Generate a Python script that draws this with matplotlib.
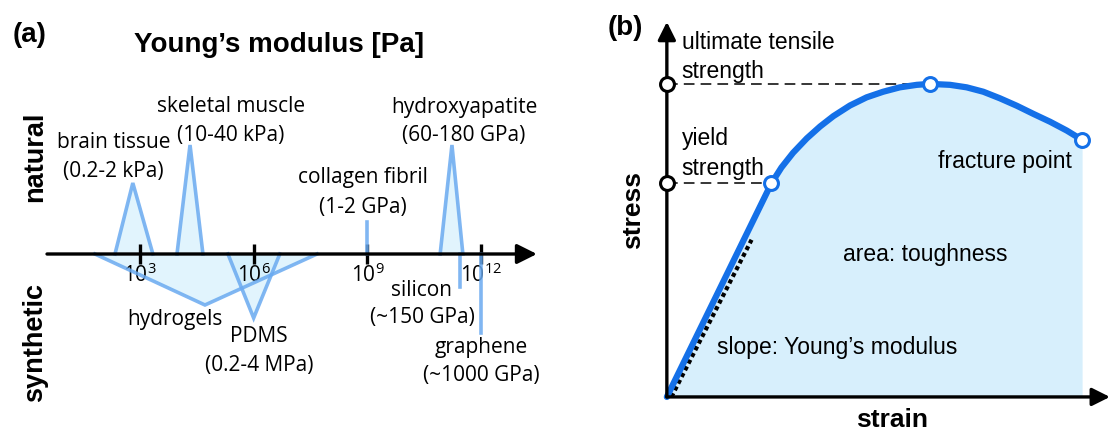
import matplotlib.pyplot as plt

plt.rcParams['font.family'] = ['Open Sans', 'DejaVu Sans']
plt.rcParams['mathtext.fontset'] = 'custom'
plt.rcParams['mathtext.rm'] = 'Open Sans'
plt.rcParams['mathtext.it'] = 'Open Sans'

# ---- panel (a): Young's modulus ranges [Pa], triangle heights in arbitrary units
natural_names = ['brain tissue\n(0.2-2 kPa)', 'skeletal muscle\n(10-40 kPa)', 'hydroxyapatite\n(60-180 GPa)']
natural_low = [2.2e2, 9.5e3, 8.3e10]
natural_peak = [6.5e2, 2.1e4, 1.7e11]
natural_high = [2.2e3, 4.6e4, 3.3e11]
natural_height = [71, 109, 109]

synthetic_names = ['hydrogels', 'PDMS\n(0.2-4 MPa)']
synthetic_low = [65, 2.1e5]
synthetic_peak = [5.2e4, 1.0e6]
synthetic_high = [4.7e7, 4.9e6]
synthetic_depth = [51, 64]

# materials with a single value, drawn as a stick
stick_names = ['collagen fibril\n(1-2 GPa)', 'silicon\n(~150 GPa)', 'graphene\n(~1000 GPa)']
stick_values = [1.0e9, 2.8e11, 1.0e12]
stick_heights = [32, -33, -79]

tick_values = [1e3, 1e6, 1e9, 1e12]
tick_labels = ['$10^3$', '$10^6$', '$10^9$', '$10^{12}$']

# ---- panel (b): stress-strain curve (normalised)
strain = [0, 0.252, 0.276, 0.304, 0.337, 0.369, 0.401, 0.441, 0.481, 0.521, 0.561,
          0.602, 0.634, 0.682, 0.722, 0.762, 0.802, 0.843, 0.883, 0.923, 0.963, 1.0]
stress = [0, 0.683, 0.733, 0.780, 0.826, 0.864, 0.897, 0.931, 0.957, 0.975, 0.989,
          0.997, 1.0, 0.997, 0.989, 0.975, 0.954, 0.930, 0.904, 0.879, 0.851, 0.821]
yield_idx = 1
uts_idx = 12
slope_strain = [0.011, 0.204]
slope_stress = [0.0, 0.502]

line_blue = '#6aaaf0'
fill_blue = '#cdeefc'
curve_blue = '#1470e8'
area_blue = '#d7effc'

fig = plt.figure(figsize=(11.12, 4.32), dpi=100)

# ================= panel (a)
ax = fig.add_axes([0, 0, 560 / 1112, 1])
ax.set_xscale('log')
ax.set_xlim(10 ** -0.69, 10 ** 14.08)
ax.set_ylim(-178, 254)
for s in ax.spines.values():
    s.set_visible(False)
ax.spines['bottom'].set_position(('data', 0))
ax.set_yticks([])
ax.set_xticks(tick_values)
ax.set_xticklabels(tick_labels, fontsize=15)
ax.xaxis.set_minor_locator(plt.NullLocator())
ax.tick_params(axis='x', direction='inout', length=15, width=2.4, pad=-1, color='black')
ax.patch.set_visible(False)

for lo, pk, hi, h in zip(natural_low, natural_peak, natural_high, natural_height):
    ax.fill([lo, pk, hi], [0, h, 0], color=fill_blue, alpha=0.6, lw=0)
    ax.plot([lo, pk, hi], [0, h, 0], color=line_blue, lw=2.6, alpha=0.85, solid_joinstyle='miter')
for lo, pk, hi, d in zip(synthetic_low, synthetic_peak, synthetic_high, synthetic_depth):
    ax.fill([lo, pk, hi], [0, -d, 0], color=fill_blue, alpha=0.6, lw=0)
    ax.plot([lo, pk, hi], [0, -d, 0], color=line_blue, lw=2.6, alpha=0.85, solid_joinstyle='miter')
for v, h in zip(stick_values, stick_heights):
    ax.plot([v, v], [0, h], color=line_blue, lw=2.6, alpha=0.85)

ax.annotate('', xy=(10 ** 13.47, 0), xytext=(10 ** 0.55, 0),
            arrowprops=dict(arrowstyle='-|>', lw=2.4, color='black', mutation_scale=30,
                            shrinkA=0, shrinkB=0))

# labels
lab_kw = dict(ha='center', va='center', fontsize=15, linespacing=1.5)
ax.text(10 ** 2.31, 96.5, natural_names[0], **lab_kw)
ax.text(10 ** 5.40, 132.5, natural_names[1], **lab_kw)
ax.text(10 ** 11.55, 132.5, natural_names[2], **lab_kw)
ax.text(10 ** 8.88, 61.5, stick_names[0], **lab_kw)
ax.text(10 ** 3.92, -66, synthetic_names[0], **lab_kw)
ax.text(10 ** 6.14, -97, synthetic_names[1], **lab_kw)
# silicon label sits between the tick labels, so each line is placed on its own
sil_top, sil_bottom = stick_names[1].split('\n')
ax.text(10 ** 10.44, -36, sil_top, **lab_kw)
ax.text(10 ** 10.44, -64, sil_bottom, **lab_kw)
ax.text(10 ** 12.0, -107.5, stick_names[2], **lab_kw)

bold = dict(family=['Liberation Sans', 'DejaVu Sans'], fontweight='bold')
fig.text(30 / 1112, 1 - 35 / 432, '(a)', ha='center', va='center', fontsize=20, **bold)
fig.text(279 / 1112, 1 - 45 / 432, 'Young\u2019s modulus [Pa]', ha='center', va='center', fontsize=20, **bold)
fig.text(35 / 1112, 1 - 157 / 432, 'natural', rotation=90, ha='center', va='center', fontsize=19.5, **bold)
fig.text(35 / 1112, 1 - 342 / 432, 'synthetic', rotation=90, ha='center', va='center', fontsize=19.5, **bold)

# ================= panel (b)
bx = fig.add_axes([600 / 1112, 0, 512 / 1112, 1])
bx.set_xlim(-0.161, 1.072)
bx.set_ylim(-0.112, 1.268)
bx.axis('off')

bx.fill_between(strain, stress, 0, color=area_blue, lw=0)
bx.plot(slope_strain, slope_stress, color='black', lw=3, ls=(0, (1.0, 0.8)))
bx.plot([0, strain[uts_idx]], [stress[uts_idx]] * 2, color='black', lw=1.1, ls=(0, (7, 4)))
bx.plot([0, strain[yield_idx]], [stress[yield_idx]] * 2, color='black', lw=1.1, ls=(0, (7, 4)))
bx.plot(strain, stress, color=curve_blue, lw=4.5, solid_capstyle='round', solid_joinstyle='round')
bx.plot([strain[yield_idx], strain[uts_idx], strain[-1]],
        [stress[yield_idx], stress[uts_idx], stress[-1]],
        ls='none', marker='o', ms=10, mfc='white', mec=curve_blue, mew=2.2, zorder=5)

for tgt in [(0, 1.198), (1.067, 0)]:
    bx.annotate('', xy=tgt, xytext=(0, 0),
                arrowprops=dict(arrowstyle='-|>', lw=2.4, color='black', mutation_scale=27,
                                shrinkA=0, shrinkB=0), annotation_clip=False)
bx.plot([0, 0], [stress[yield_idx], stress[uts_idx]], ls='none', marker='o', ms=10,
        mfc='white', mec='black', mew=2.2, zorder=6, clip_on=False)

tkw = dict(family=['Liberation Sans', 'DejaVu Sans'], fontsize=16.5, linespacing=1.35)
bx.text(0.036, 1.085, 'ultimate tensile\nstrength', ha='left', va='center', **tkw)
bx.text(0.036, 0.778, 'yield\nstrength', ha='left', va='center', **tkw)
bx.text(0.814, 0.751, 'fracture point', ha='center', va='center', **tkw)
bx.text(0.622, 0.454, 'area: toughness', ha='center', va='center', **tkw)
bx.text(0.410, 0.157, 'slope: Young\u2019s modulus', ha='center', va='center', **tkw)
bx.text(-0.082, 0.597, 'stress', rotation=90, ha='center', va='center', fontsize=19, **bold)
bx.text(0.542, -0.073, 'strain', ha='center', va='center', fontsize=19, **bold)
fig.text(625 / 1112, 1 - 28 / 432, '(b)', ha='center', va='center', fontsize=20, **bold)

fig.savefig('out.png', dpi=100, facecolor='white')
